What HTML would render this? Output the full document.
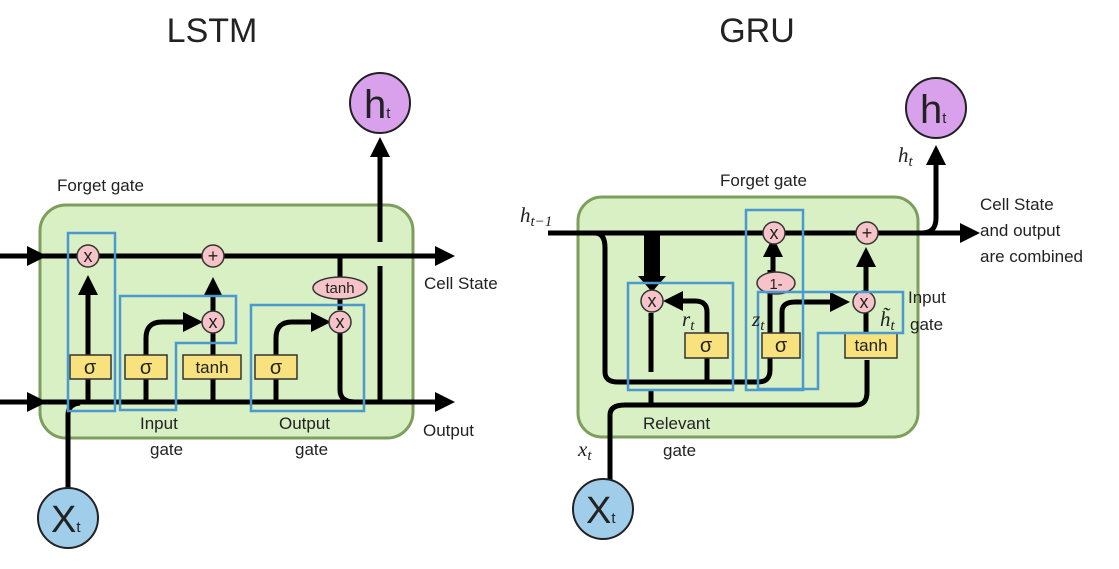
<!DOCTYPE html>
<html><head><meta charset="utf-8"><style>
body{margin:0;background:#fff}
text{font-family:"Liberation Sans",sans-serif;fill:#222}
.s{font-family:"Liberation Serif",serif;font-style:italic}
</style></head><body>
<svg width="1119" height="564" viewBox="0 0 1119 564" xmlns="http://www.w3.org/2000/svg">
<defs>
<marker id="a" markerWidth="4" markerHeight="4" refX="1" refY="2" orient="auto" markerUnits="strokeWidth"><path d="M0,0L4,2L0,4z" fill="#000"/></marker>
</defs>
<!-- LSTM -->
<text x="212" y="42" font-size="34" text-anchor="middle">LSTM</text>
<rect x="40" y="205" width="373" height="233" rx="26" fill="#d8f0c4" stroke="#7d9e5c" stroke-width="3"/>
<g stroke="#000" stroke-width="5" fill="none">
<line x1="0" y1="256" x2="32" y2="256" marker-end="url(#a)"/>
<line x1="0" y1="402" x2="32" y2="402" marker-end="url(#a)"/>
<line x1="40" y1="256" x2="440" y2="256" marker-end="url(#a)"/>
<line x1="40" y1="402" x2="440" y2="402" marker-end="url(#a)"/>
<path d="M68,490 V415 Q68,404 80,403"/>
<line x1="88" y1="402" x2="88" y2="290" marker-end="url(#a)"/>
<path d="M146,402 V338 Q146,322 162,322 H188" marker-end="url(#a)"/>
<line x1="213" y1="402" x2="213" y2="292" marker-end="url(#a)"/>
<path d="M276,402 V338 Q276,322 292,322 H316" marker-end="url(#a)"/>
<line x1="340" y1="256" x2="340" y2="310"/>
<path d="M340,330 V390 Q340,402 355,402"/>
<line x1="380" y1="402" x2="380" y2="266"/>
<line x1="380" y1="242" x2="380" y2="152" marker-end="url(#a)"/>
</g>
<g fill="#f6c3c8" stroke="#333" stroke-width="1.5">
<circle cx="88" cy="256" r="11"/><circle cx="213" cy="256" r="11"/><circle cx="213" cy="322" r="11"/><circle cx="340" cy="322" r="11"/>
<ellipse cx="340" cy="288" rx="27" ry="11"/>
</g>
<g font-size="18" text-anchor="middle">
<text x="88" y="262">x</text><text x="213" y="262">+</text><text x="213" y="328">x</text><text x="340" y="328">x</text>
<text x="340" y="293" font-size="15">tanh</text>
</g>
<g fill="#f7e27e" stroke="#333" stroke-width="1.5">
<rect x="70" y="355" width="41" height="24"/><rect x="125" y="355" width="42" height="24"/><rect x="183" y="355" width="58" height="24"/><rect x="255" y="355" width="42" height="24"/>
</g>
<g font-size="20" text-anchor="middle">
<text x="90" y="374">σ</text><text x="146" y="374">σ</text><text x="212" y="373" font-size="17">tanh</text><text x="276" y="374">σ</text>
</g>
<g fill="none" stroke="#4a9ad0" stroke-width="2.5">
<rect x="68" y="233" width="47" height="178"/>
<path d="M120,296 H236 V343 H176 V410 H120 Z"/>
<rect x="251" y="305" width="113" height="106"/>
</g>
<circle cx="380" cy="103" r="30" fill="#d9a0ec" stroke="#222" stroke-width="2"/>
<text x="364" y="118" font-size="40">h<tspan font-size="15">t</tspan></text>
<circle cx="68" cy="518" r="30" fill="#9fcdea" stroke="#222" stroke-width="2"/>
<text x="51" y="532" font-size="38">X<tspan font-size="15">t</tspan></text>
<g font-size="17">
<text x="57" y="191">Forget gate</text>
<text x="424" y="289">Cell State</text>
<text x="140" y="429">Input</text><text x="150" y="455">gate</text>
<text x="279" y="429">Output</text><text x="295" y="455">gate</text>
<text x="423" y="436">Output</text>
</g>
<!-- GRU -->
<text x="757" y="42" font-size="34" text-anchor="middle">GRU</text>
<rect x="578" y="197" width="340" height="240" rx="24" fill="#d8f0c4" stroke="#7d9e5c" stroke-width="3"/>
<g stroke="#000" stroke-width="5" fill="none">
<line x1="548" y1="233" x2="965" y2="233" marker-end="url(#a)"/>
<path d="M922,233 Q936,233 936,218 V160" marker-end="url(#a)"/>
<path d="M595,233 Q605,233 605,248 V372 Q605,382 618,382 H758 Q770,382 770,370 V300"/>
<line x1="770" y1="300" x2="770" y2="270"/>
<line x1="773" y1="272" x2="773" y2="252" marker-end="url(#a)"/>
<path d="M610,492 V415 Q610,405 625,405 H856 Q867,405 867,392 V360"/>
<line x1="866" y1="340" x2="866" y2="313"/>
<line x1="866" y1="292" x2="866" y2="262" marker-end="url(#a)"/>
<line x1="651" y1="313" x2="651" y2="372"/>
<line x1="651" y1="390" x2="651" y2="405"/>
<path d="M707,382 V312 Q707,301 695,301 H678" marker-end="url(#a)"/>
<path d="M782,340 V312 Q782,302 795,302 H835" marker-end="url(#a)"/>
</g>
<path d="M644,235 H660 V276 H666 L652,292 L638,276 H644 Z" fill="#000"/>
<g fill="#f6c3c8" stroke="#333" stroke-width="1.5">
<circle cx="652" cy="301" r="11"/><circle cx="774" cy="233" r="11"/><circle cx="867" cy="233" r="11"/><circle cx="864" cy="302" r="11"/>
<ellipse cx="776" cy="283" rx="19" ry="11"/>
</g>
<g font-size="18" text-anchor="middle">
<text x="652" y="307">x</text><text x="774" y="239">x</text><text x="867" y="239">+</text><text x="864" y="308">x</text>
<text x="776" y="289" font-size="15">1-</text>
</g>
<g fill="#f7e27e" stroke="#333" stroke-width="1.5">
<rect x="685" y="333" width="43" height="25"/><rect x="762" y="333" width="38" height="25"/><rect x="845" y="333" width="52" height="25"/>
</g>
<g font-size="20" text-anchor="middle">
<text x="706" y="352">σ</text><text x="781" y="352">σ</text><text x="871" y="351" font-size="17">tanh</text>
</g>
<g fill="none" stroke="#4a9ad0" stroke-width="2.5">
<rect x="628" y="283" width="105" height="107"/>
<rect x="746" y="210" width="57" height="180"/>
<path d="M758,292 H903 V333 H818 V389 H758 Z"/>
</g>
<circle cx="936" cy="108" r="30" fill="#d9a0ec" stroke="#222" stroke-width="2"/>
<text x="920" y="123" font-size="40">h<tspan font-size="15">t</tspan></text>
<circle cx="603" cy="509" r="30" fill="#9fcdea" stroke="#222" stroke-width="2"/>
<text x="586" y="523" font-size="38">X<tspan font-size="15">t</tspan></text>
<g font-size="21" class="s">
<text x="520" y="222" class="s">h<tspan font-size="15" dy="4">t−1</tspan></text>
<text x="898" y="162" class="s">h<tspan font-size="15" dy="4">t</tspan></text>
<text x="578" y="456" class="s">x<tspan font-size="15" dy="4">t</tspan></text>
<text x="682" y="326" class="s">r<tspan font-size="15" dy="4">t</tspan></text>
<text x="752" y="326" class="s">z<tspan font-size="15" dy="4">t</tspan></text>
<text x="880" y="326" class="s">h̃<tspan font-size="15" dy="4">t</tspan></text>
</g>
<g font-size="17">
<text x="720" y="186">Forget gate</text>
<text x="980" y="210">Cell State</text><text x="980" y="236">and output</text><text x="980" y="262">are combined</text>
<text x="908" y="303">Input</text><text x="910" y="330">gate</text>
<text x="643" y="429">Relevant</text><text x="663" y="456">gate</text>
</g>
</svg>
</body></html>
